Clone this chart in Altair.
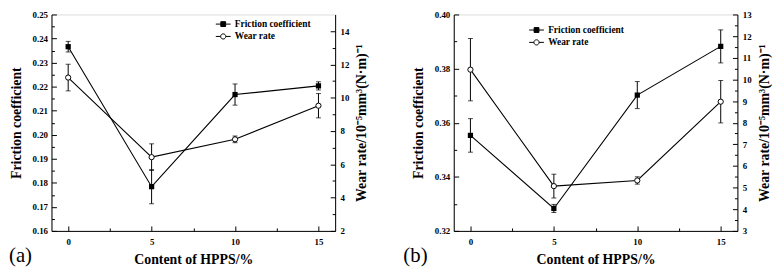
import altair as alt
import pandas as pd

FONT = "Liberation Serif, Times New Roman, serif"

# ---- data ----
content = [0, 5, 10, 15]

fric_a = [0.2366, 0.1784, 0.2167, 0.2203]
fric_a_err = [0.0022, 0.0071, 0.0044, 0.0017]
wear_a = [11.21, 6.43, 7.50, 9.52]
wear_a_err = [0.80, 0.80, 0.20, 0.73]

fric_b = [0.3553, 0.3283, 0.3702, 0.3882]
fric_b_err = [0.0062, 0.0015, 0.0050, 0.0061]
wear_b = [10.45, 5.07, 5.33, 8.97]
wear_b_err = [1.44, 0.55, 0.17, 0.98]

series_names = ["Friction coefficient", "Wear rate"]

# ---- tick values ----
x_major = [0, 5, 10, 15]
x_minor = [2.5, 7.5, 12.5]
fa_major = [0.16, 0.17, 0.18, 0.19, 0.2, 0.21, 0.22, 0.23, 0.24, 0.25]
fa_minor = [0.165, 0.175, 0.185, 0.195, 0.205, 0.215, 0.225, 0.235, 0.245]
wa_major = [2, 4, 6, 8, 10, 12, 14]
wa_minor = [3, 5, 7, 9, 11, 13]
fb_major = [0.32, 0.34, 0.36, 0.38, 0.4]
fb_minor = [0.33, 0.35, 0.37, 0.39]
wb_major = [3, 4, 5, 6, 7, 8, 9, 10, 11, 12, 13]
wb_minor = [3.5, 4.5, 5.5, 6.5, 7.5, 8.5, 9.5, 10.5, 11.5, 12.5]

X_TITLE = "Content of HPPS/%"
F_TITLE = "Friction coefficient"
W_TITLE = "Wear rate/10\u207b\u2075mm\u00b3(N\u00b7m)\u207b\u00b9"

W, H = 287, 219

SQ = "M-2,0H-0.65M-0.65,-0.65H0.65V0.65H-0.65ZM0.65,0H2"
CI = "M-2,0H-0.7M0.7,0A0.7,0.7,0,1,1,-0.7,0A0.7,0.7,0,1,1,0.7,0M0.7,0H2"


def make_axis(orient, major, minor, fmt, title, lp, tp, **kw):
    vals = sorted(major + minor)
    arr = "[" + ",".join(repr(v) for v in major) + "]"
    is_major = f"indexof({arr}, datum.value) >= 0"
    return alt.Axis(
        orient=orient, values=vals, title=title,
        labelExpr=f"{is_major} ? format(datum.value, '{fmt}') : ''",
        tickSize={"expr": f"{is_major} ? -5 : -3"},
        labelPadding=lp, titlePadding=tp, grid=False, labelOverlap=False,
        labelFont=FONT, labelFontSize=9, labelFontWeight="bold", labelColor="black",
        titleFont=FONT, titleFontSize=14, titleFontWeight="bold", titleColor="black",
        domainColor="black", domainWidth=1, tickColor="black", tickWidth=1,
        **kw,
    )


def panel(fric, ferr, wear, werr, fdom, fmaj, fmin, ffmt, wdom, wmaj, wmin,
          letter, lx, ly, letter_x):
    df = pd.DataFrame({
        "content": content,
        "fric": fric,
        "flo": [v - e for v, e in zip(fric, ferr)],
        "fhi": [v + e for v, e in zip(fric, ferr)],
        "wear": wear,
        "wlo": [v - e for v, e in zip(wear, werr)],
        "whi": [v + e for v, e in zip(wear, werr)],
    })
    base = alt.Chart(df)

    xax = make_axis("bottom", x_major, x_minor, "d", X_TITLE, 12, 4)
    xenc = alt.X("content:Q", scale=alt.Scale(domain=[-1, 16], nice=False, zero=False), axis=xax)

    fax = make_axis("left", fmaj, fmin, ffmt, F_TITLE, 9, 9)
    fsc = alt.Scale(domain=fdom, nice=False, zero=False)
    fy = alt.Y("fric:Q", scale=fsc, axis=fax)

    wax = make_axis("right", wmaj, wmin, "d", W_TITLE, 10, 6,
                    titleAngle=270, titleBaseline="top")
    wsc = alt.Scale(domain=wdom, nice=False, zero=False)
    wy = alt.Y("wear:Q", scale=wsc, axis=wax)

    lg = alt.Legend(
        orient="none", legendX=lx, legendY=ly, title=None,
        labelFont=FONT, labelFontSize=9.5, labelFontWeight="bold", labelColor="black",
        symbolSize=56, symbolStrokeWidth=1, symbolStrokeColor="black",
        labelOffset=7, rowPadding=1.5, padding=0,
    )

    f_line = base.mark_line(color="black", strokeWidth=1.1).encode(x=xenc, y=fy)
    f_err = base.mark_errorbar(ticks={"size": 5}, color="black", thickness=1).encode(
        x=xenc, y=alt.Y("flo:Q", scale=fsc, axis=fax), y2="fhi:Q")
    f_pt = base.mark_point(shape="square", filled=True, color="black", size=28, opacity=1).encode(x=xenc, y=fy)
    f_leg = base.transform_filter("false").mark_point(
        filled=True, strokeWidth=1, size=56, opacity=1
    ).encode(
        x=xenc, y=fy,
        shape=alt.Shape("series:N", scale=alt.Scale(domain=series_names, range=[SQ, CI]), legend=lg),
        fill=alt.Fill("series:N", scale=alt.Scale(domain=series_names, range=["black", "white"]), legend=lg),
        stroke=alt.Stroke("series:N", scale=alt.Scale(domain=series_names, range=["black", "black"]), legend=lg),
    )
    fgroup = alt.layer(f_line, f_err, f_pt, f_leg)

    w_line = base.mark_line(color="black", strokeWidth=1.1).encode(x=xenc, y=wy)
    w_err = base.mark_errorbar(ticks={"size": 5}, color="black", thickness=1).encode(
        x=xenc, y=alt.Y("wlo:Q", scale=wsc, axis=wax), y2="whi:Q")
    w_pt = base.mark_point(shape="circle", filled=True, fill="white", stroke="black",
                           strokeWidth=1, size=28, opacity=1).encode(x=xenc, y=wy)
    wgroup = alt.layer(w_line, w_err, w_pt)

    note = alt.Chart(pd.DataFrame({"label": [letter]})).mark_text(
        font=FONT, fontSize=21, align="left", baseline="alphabetic", color="black"
    ).encode(text="label:N", x=alt.value(letter_x), y=alt.value(H + 31))

    return alt.layer(fgroup, wgroup, note).resolve_scale(y="independent").properties(width=W, height=H)


pa = panel(fric_a, fric_a_err, wear_a, wear_a_err, [0.16, 0.25], fa_major, fa_minor, ".2f",
           [2, 15], wa_major, wa_minor, "(a)", 169, 5, -43)
pb = panel(fric_b, fric_b_err, wear_b, wear_b_err, [0.32, 0.40], fb_major, fb_minor, ".2f",
           [3, 13], wb_major, wb_minor, "(b)", 79, 11, -51)

chart = alt.hconcat(pa, pb, spacing=33, padding=0).resolve_scale(
    x="independent", y="independent", shape="independent", fill="independent", stroke="independent"
).resolve_legend(shape="independent", fill="independent", stroke="independent").configure_view(
    stroke="black", strokeWidth=1
).configure(font=FONT)

chart.save("out.html", embed_options={"renderer": "svg", "actions": False})
